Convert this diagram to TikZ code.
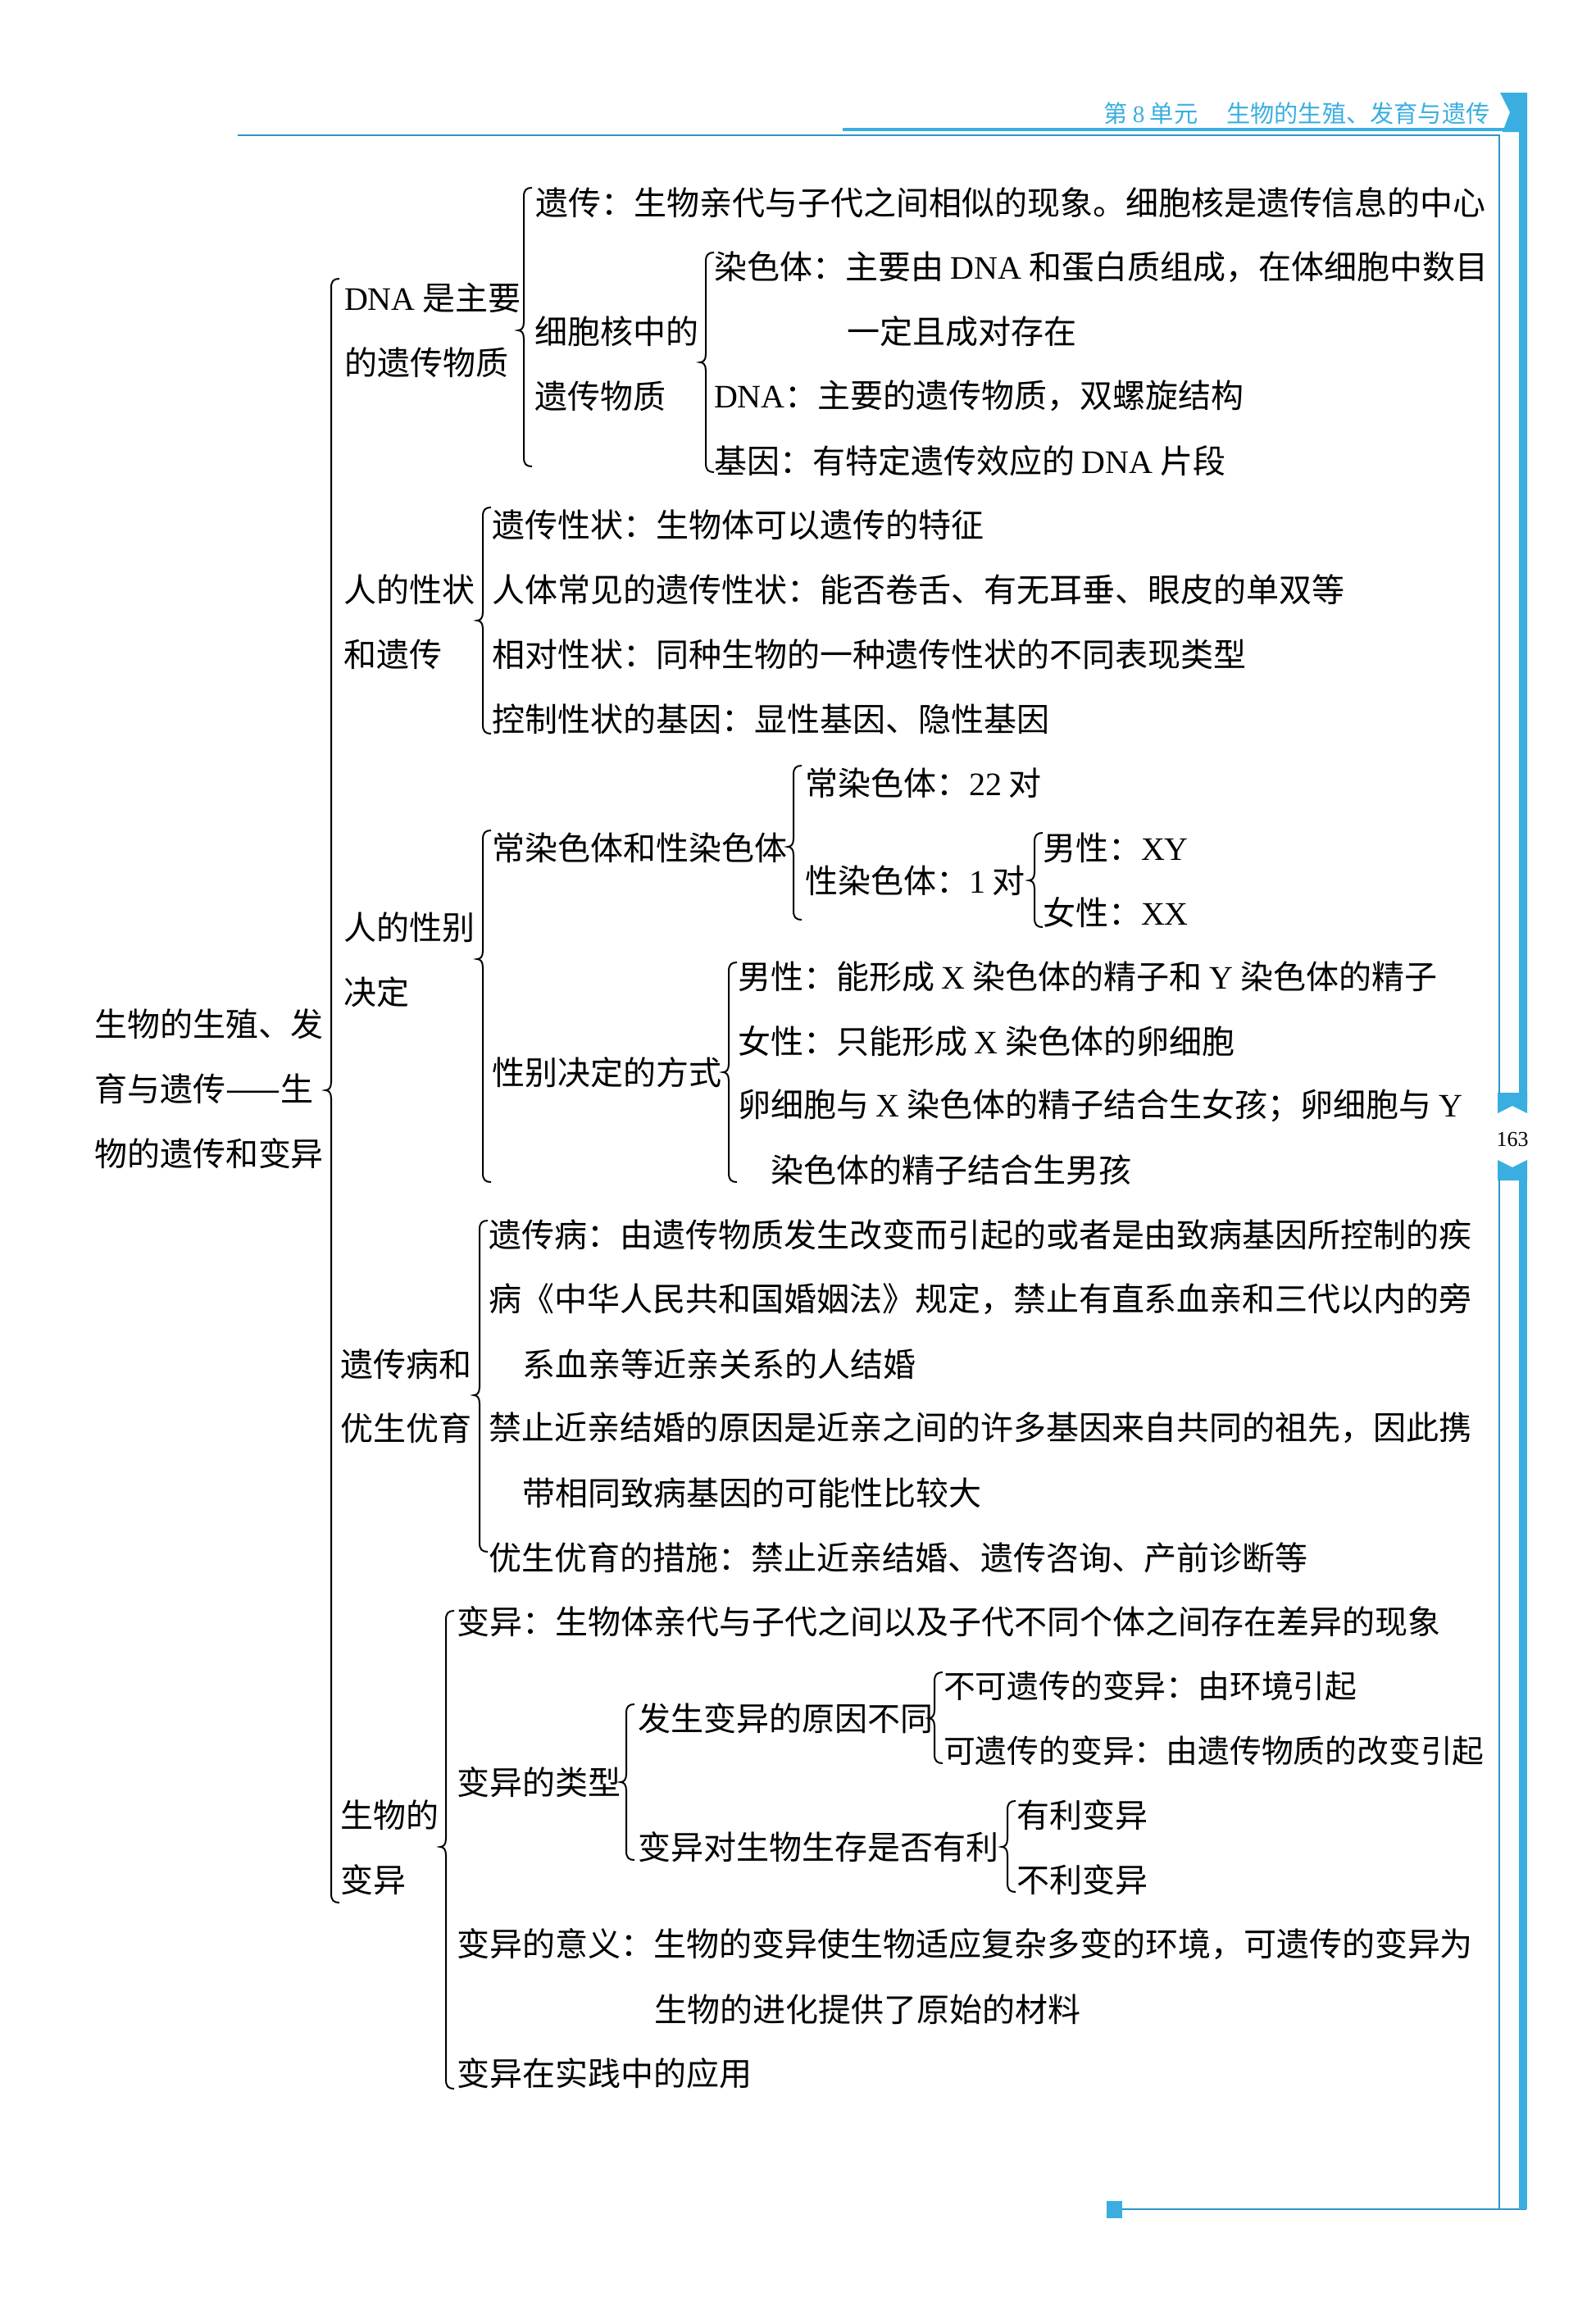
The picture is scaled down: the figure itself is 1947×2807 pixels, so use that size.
\documentclass[tikz,border=0pt]{standalone}
\usepackage{fontspec}
\setmainfont{Noto Sans CJK SC}
\newfontfamily\latf{Liberation Serif}
\newcommand\lt[1]{{\latf #1}}
\definecolor{pblue}{HTML}{3AAEE0}
\definecolor{lblue}{HTML}{2D96C8}
\newcommand\br[4]{%
  \draw[brace] (#1+10,#2) .. controls (#1+3,#2) and (#1,#2+3) .. (#1,#2+11)
    -- (#1,#3-10) .. controls (#1,#3-3) and (#1-3,#3) .. (#1-7,#3)
    .. controls (#1-3,#3) and (#1,#3+3) .. (#1,#3+10)
    -- (#1,#4-11) .. controls (#1,#4-3) and (#1+3,#4) .. (#1+10,#4);}
\begin{document}
\begin{tikzpicture}[x=0.25pt,y=-0.25pt,
  every node/.style={inner sep=0pt,outer sep=0pt,anchor=west,font=\fontsize{10pt}{12pt}\selectfont},
  narrow/.style={font=\fontsize{9.7pt}{12pt}\selectfont},
  brace/.style={line width=0.5pt,black},
  thinframe/.style={lblue,line width=0.45pt},
  thickframe/.style={pblue,line width=0.9pt}]
\useasboundingbox (0,0) rectangle (1947,2807);
% frame
\draw[thinframe] (290,165) -- (1829,165) -- (1829,1345);
\draw[thinframe] (1829,1428) -- (1829,2695);
\draw[thinframe] (1369,2695) -- (1862,2695);
\draw[thickframe] (1028,158) -- (1840,158);
\fill[pblue] (1830,113) -- (1863,113) -- (1863,1345) -- (1853,1345) -- (1853,161) -- (1833,161) -- (1842,137) -- cycle;
\fill[pblue] (1853,1428) rectangle (1863,2695);
\fill[pblue] (1827,1333) -- (1863,1333) -- (1863,1358) -- (1845,1349) -- (1827,1358) -- cycle;
\fill[pblue] (1827,1440) -- (1863,1440) -- (1863,1415) -- (1845,1424) -- (1827,1415) -- cycle;
\fill[pblue] (1350,2685) rectangle (1369,2706);
\node (hdr) [font=\fontsize{7.3pt}{8pt}\selectfont,text=pblue] at (1346,138) {第 \lt{8} 单元\hspace{1.2em}生物的生殖、发育与遗传};
\node (pg) [anchor=center,font=\latf\fontsize{6.5pt}{8pt}\selectfont] at (1845,1390) {163};
% root
\node (r1) at (115,1249) {生物的生殖、发};
\node (r2) at (115,1328) {育与遗传——生};
\node (r3) at (115,1407) {物的遗传和变异};
% DNA block
\node (c1) at (420,363) {\lt{DNA} 是主要};
\node (c2) at (420,442) {的遗传物质};
\node (a1) at (653,247) {遗传：生物亲代与子代之间相似的现象。细胞核是遗传信息的中心};
\node (b1) at (652,404) {细胞核中的};
\node (b2) at (652,483) {遗传物质};
\node (a2) at (871,326) {染色体：主要由 \lt{DNA} 和蛋白质组成，在体细胞中数目};
\node (a3) at (1033,404) {一定且成对存在};
\node (a4) at (871,483) {\lt{DNA}：主要的遗传物质，双螺旋结构};
\node (a5) at (871,562) {基因：有特定遗传效应的 \lt{DNA} 片段};
% traits
\node (e1) at (419,719) {人的性状};
\node (e2) at (419,798) {和遗传};
\node (d1) at (600,640) {遗传性状：生物体可以遗传的特征};
\node (d2) at (600,719) {人体常见的遗传性状：能否卷舌、有无耳垂、眼皮的单双等};
\node (d3) at (600,798) {相对性状：同种生物的一种遗传性状的不同表现类型};
\node (d4) at (600,877) {控制性状的基因：显性基因、隐性基因};
% sex
\node (h1) at (419,1131) {人的性别};
\node (h2) at (419,1210) {决定};
\node (f5) at (600,1034) {常染色体和性染色体};
\node (f1) at (982,955) {常染色体：\lt{22} 对};
\node (f2) at (982,1074) {性染色体：\lt{1} 对};
\node (f3) at (1272,1034) {男性：\lt{XY}};
\node (f4) at (1272,1113) {女性：\lt{XX}};
\node (g5) at (600,1308) {性别决定的方式};
\node (g1) at (900,1191) {男性：能形成 \lt{X} 染色体的精子和 \lt{Y} 染色体的精子};
\node (g2) at (900,1270) {女性：只能形成 \lt{X} 染色体的卵细胞};
\node (g3) at (900,1349) {卵细胞与 \lt{X} 染色体的精子结合生女孩；卵细胞与 \lt{Y}};
\node (g4) at (940,1427) {染色体的精子结合生男孩};
% disease
\node (j1) at (415,1664) {遗传病和};
\node (j2) at (415,1742) {优生优育};
\node (i1) at (596,1506) {遗传病：由遗传物质发生改变而引起的或者是由致病基因所控制的疾};
\node (i2) at (596,1585) {病《中华人民共和国婚姻法》规定，禁止有直系血亲和三代以内的旁};
\node (i3) at (637,1664) {系血亲等近亲关系的人结婚};
\node (i4) at (596,1742) {禁止近亲结婚的原因是近亲之间的许多基因来自共同的祖先，因此携};
\node (i5) at (637,1821) {带相同致病基因的可能性比较大};
\node (i6) at (596,1900) {优生优育的措施：禁止近亲结婚、遗传咨询、产前诊断等};
% variation
\node (l1) at (415,2214) {生物的};
\node (l2) at (415,2293) {变异};
\node (k1) at (557,1978) {变异：生物体亲代与子代之间以及子代不同个体之间存在差异的现象};
\node (k5) at (557,2174) {变异的类型};
\node (k4) at (778,2096) {发生变异的原因不同};
\node (k2) [narrow] at (1151,2057) {不可遗传的变异：由环境引起};
\node (k3) [narrow] at (1151,2136) {可遗传的变异：由遗传物质的改变引起};
\node (k8) at (778,2253) {变异对生物生存是否有利};
\node (k6) at (1240,2214) {有利变异};
\node (k7) at (1240,2293) {不利变异};
\node (k9) at (557,2372) {变异的意义：生物的变异使生物适应复杂多变的环境，可遗传的变异为};
\node (k10) at (798,2451) {生物的进化提供了原始的材料};
\node (k11) at (557,2529) {变异在实践中的应用};
% braces
\br{404}{340}{1330}{2321}
\br{639}{229}{403}{569}
\br{861}{308}{442}{576}
\br{589}{619}{757}{895}
\br{589}{1013}{1170}{1442}
\br{968}{934}{1033}{1122}
\br{1262}{1016}{1074}{1131}
\br{889}{1174}{1308}{1442}
\br{585}{1489}{1702}{1893}
\br{544}{1965}{2253}{2548}
\br{764}{2079}{2174}{2269}
\br{1140}{2040}{2096}{2151}
\br{1229}{2197}{2253}{2308}
\end{tikzpicture}
\end{document}
